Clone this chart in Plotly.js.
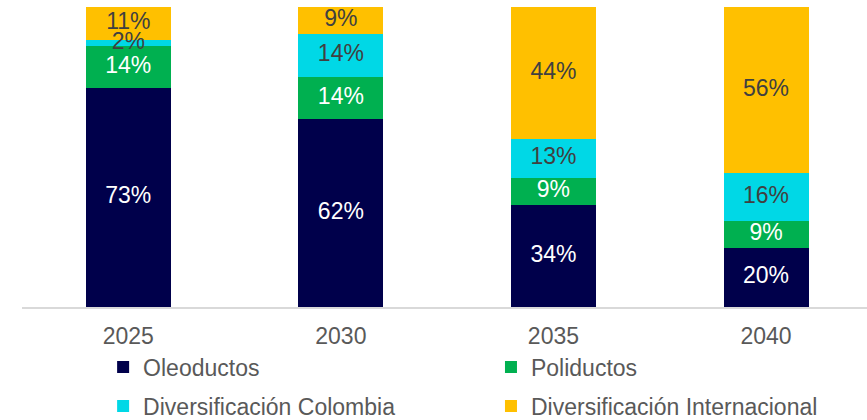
<!DOCTYPE html>
<html>
<head>
<meta charset="utf-8">
<script src="https://cdn.plot.ly/plotly-3.0.1.min.js"></script>
<style>html,body{margin:0;padding:0;background:#fff;}#chart{width:867px;height:420px;}</style>
</head>
<body>
<div id="chart"></div>
<script>
const years = ['2025', '2030', '2035', '2040'];
const oleoductos = [73, 62, 34, 20];
const poliductos = [14, 14, 9, 9];
const divColombia = [2, 14, 13, 16];
const divInternacional = [11, 9, 44, 56];

const FONT = 'Liberation Sans, Arial, sans-serif';
const SIZE = 23;

const series = [
  {name: 'Oleoductos', vals: oleoductos, color: '#00004b', txt: '#ffffff', legend: 'legend'},
  {name: 'Poliductos', vals: poliductos, color: '#00b050', txt: '#ffffff', legend: 'legend2'},
  {name: 'Diversificación Colombia', vals: divColombia, color: '#00d8e6', txt: '#404040', legend: 'legend3'},
  {name: 'Diversificación Internacional', vals: divInternacional, color: '#ffc000', txt: '#404040', legend: 'legend4'}
];

// totals per year for percent normalisation (barnorm)
const totals = years.map((_, i) => series.reduce((s, sr) => s + sr.vals[i], 0));

const data = [];
series.forEach(sr => {
  data.push({
    type: 'bar', name: sr.name, x: years, y: sr.vals,
    marker: {color: sr.color, line: {width: 0}},
    width: 0.4, hoverinfo: 'skip', legend: sr.legend
  });
});
// labels drawn above all bars, at the middle of each stacked segment
const cum = years.map(() => 0);
series.forEach(sr => {
  const mids = sr.vals.map((v, i) => {
    const start = cum[i];
    cum[i] += v;
    return (start + v / 2) / totals[i] * 100;
  });
  data.push({
    type: 'scatter', mode: 'text', x: years, y: mids,
    text: sr.vals.map(v => v + '%'), textposition: 'middle center',
    textfont: {family: FONT, size: SIZE, color: sr.txt},
    showlegend: false, hoverinfo: 'skip', cliponaxis: false
  });
});

function leg(x, y) {
  return {
    orientation: 'h', xanchor: 'left', yanchor: 'middle', x: x, y: y,
    font: {family: FONT, size: SIZE, color: '#595959'},
    bgcolor: 'rgba(0,0,0,0)', borderwidth: 0
  };
}

const layout = {
  width: 867, height: 420,
  margin: {l: 22, r: 0, t: 7, b: 113, autoexpand: false},
  paper_bgcolor: '#ffffff', plot_bgcolor: '#ffffff',
  barmode: 'stack', barnorm: 'percent',
  showlegend: true,
  xaxis: {
    type: 'category', range: [-0.5, 3.475],
    showline: true, linecolor: '#d9d9d9', linewidth: 1.5,
    showgrid: false, zeroline: false, ticks: '', ticklabelstandoff: 8,
    tickfont: {family: FONT, size: SIZE, color: '#595959'}
  },
  yaxis: {
    range: [0, 100], visible: false, showgrid: false, zeroline: false, fixedrange: true
  },
  legend: leg(0.096, -0.2),
  legend2: leg(0.555, -0.2),
  legend3: leg(0.096, -0.33),
  legend4: leg(0.555, -0.33)
};

Plotly.newPlot('chart', data, layout, {displayModeBar: false, staticPlot: true});
</script>
</body>
</html>
